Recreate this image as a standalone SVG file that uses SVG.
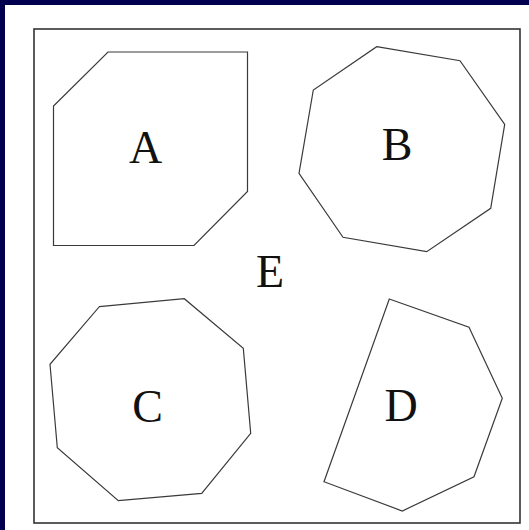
<svg xmlns="http://www.w3.org/2000/svg" width="529" height="530" viewBox="0 0 529 530">
<style>
.shape{fill:none;stroke:#3a3a3a;stroke-width:1.2;stroke-linejoin:miter}
.lbl{font-family:"Liberation Serif","Times New Roman",serif;font-size:46px;fill:#111;text-anchor:middle}
</style>
<rect x="0" y="0" width="529" height="530" fill="#00004f"/>
<rect x="5" y="5" width="524" height="525" fill="#ffffff"/>
<g id="E">
<rect x="34" y="29" width="486" height="494" fill="none" stroke="#333" stroke-width="1.6"/>
<text class="lbl" x="270" y="287">E</text>
</g>
<g id="A">
<polygon class="shape" points="108,52 247.5,52 247.5,191.5 194,245.5 53.5,245.5 53.5,106"/>
<text class="lbl" x="145.5" y="163">A</text>
</g>
<g id="B">
<polygon class="shape" points="376.7,46.7 460,60.7 504.7,124.3 490.7,208.3 426.7,251.7 343,237.3 299,173.3 313.3,90"/>
<text class="lbl" x="397" y="160">B</text>
</g>
<g id="C">
<polygon class="shape" points="99.3,306.7 184.3,298.7 243.3,348.3 250.7,433.3 201.7,493.3 118.3,500.7 57.3,447.7 50,364.3"/>
<text class="lbl" x="147.5" y="422">C</text>
</g>
<g id="D">
<polygon class="shape" points="389.3,299 469,327.3 502.3,398.3 474,476.7 402.3,511 324,481.7"/>
<text class="lbl" x="401" y="421">D</text>
</g>
<g id="connectors"/>
</svg>
